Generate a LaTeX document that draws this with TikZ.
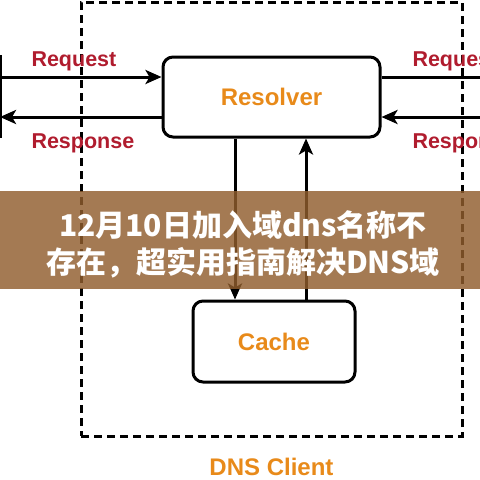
\documentclass[tikz,border=0pt]{standalone}
\usepackage{fontspec}
\setmainfont{Liberation Sans}
\newfontfamily\cjk{Noto Sans CJK SC}
\usetikzlibrary{arrows.meta}
\definecolor{reqred}{RGB}{176,28,46}
\definecolor{nameorange}{RGB}{232,138,26}
\definecolor{banner}{RGB}{144,93,45}

\begin{document}
\begin{tikzpicture}
  [x=1pt,y=-1pt,line width=3pt,
   box/.style={draw,rounded corners=10pt,line width=3pt,text=nameorange,
     font=\bfseries\fontsize{24}{28}\selectfont},
   lbl/.style={inner sep=0,text=reqred,font=\bfseries\fontsize{21.5}{24}\selectfont},
   arr/.style={-{Stealth[length=16pt,width=14pt,inset=4pt]}}]
  \useasboundingbox (0,0) rectangle (480,480);
  \clip (0,0) rectangle (480,480);

  \node[draw,dash pattern=on 8pt off 5pt,minimum width=381pt,minimum height=434pt] (client) at (271.5,219) {};
  \node[inner sep=0,anchor=base,text=nameorange,font=\bfseries\fontsize{24}{28}\selectfont] (cname) at (271.5,475) {DNS Client};

  \node[box,minimum width=217pt,minimum height=80pt] (res) at (271.5,97) {Resolver};
  \node[box,minimum width=162pt,minimum height=81pt] (cache) at (274,341.5) {Cache};

  \coordinate (lt) at (0.5,55);
  \coordinate (lb) at (0.5,138);
  \coordinate (lin) at (0,77);
  \coordinate (lout) at (0,117);
  \coordinate (rout) at (480,77);
  \coordinate (rin) at (480,117);
  \coordinate (dn) at (235,0);
  \coordinate (up) at (306,0);

  \draw (lt) -- (lb);
  \draw[arr] (lin) -- (lin -| res.west);
  \draw[arr] (lout -| res.west) -- (lout);
  \draw (res.east |- rout) -- (rout);
  \draw[arr] (rin) -- (rin -| res.east);
  \draw[arr] (dn |- res.south) -- (dn |- cache.north);
  \draw[arr] (up |- cache.north) -- (up |- res.south);

  \node[lbl,anchor=base west] (reql) at (30,66) {Request};
  \node[lbl,anchor=base west] (resl) at (30,148) {Response};
  \node[lbl,anchor=base west] (reqr) at (411,66) {Request};
  \node[lbl,anchor=base west] (resr) at (411,148) {Response};

  % banner over the middle
  \fill[banner,fill opacity=0.82] (0,191) rectangle (480,289);
  \node[text=white,align=center,font=\cjk\bfseries\fontsize{30}{37}\selectfont] (headline) at (243,244.5)
    {12月10日加入域dns名称不\\存在，超实用指南解决DNS域};

\end{tikzpicture}
\end{document}
